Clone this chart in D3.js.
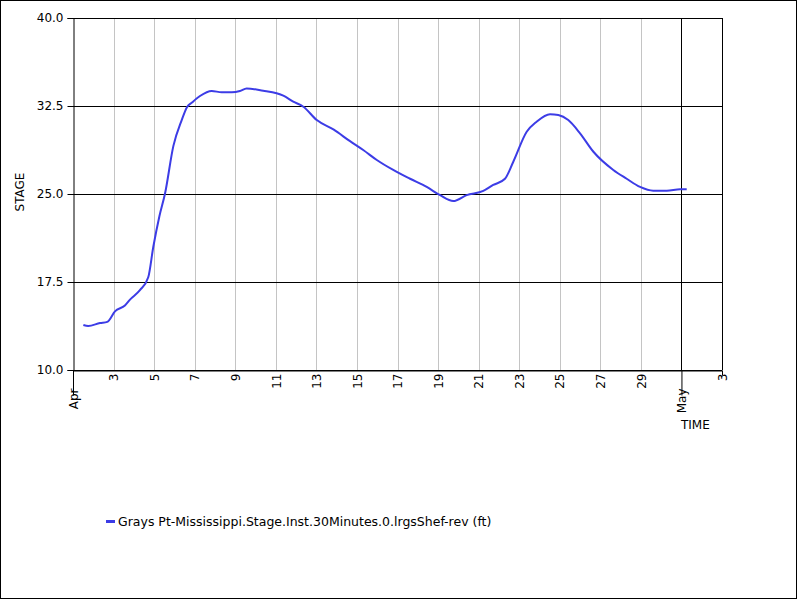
<!DOCTYPE html>
<html><head><meta charset="utf-8">
<script src="https://cdn.jsdelivr.net/npm/d3@7"></script>
<style>body{margin:0;background:#fff}svg{display:block;font-family:"DejaVu Sans",Verdana,sans-serif}</style>
</head><body>
<svg id="c" width="800" height="600"></svg>
<script>
// Day of April (May 1 = 31) and stage in ft
const days = [1.51,1.75,2.33,2.69,3.07,3.56,3.81,4.30,4.71,4.96,5.26,5.54,5.95,6.36,6.62,6.87,7.26,7.84,8.33,8.83,9.23,9.56,10.38,11.04,11.37,11.86,12.36,13.02,13.84,14.66,15.31,15.98,16.79,17.62,18.44,19.10,19.75,20.41,21.23,21.72,22.30,22.71,23.37,23.86,24.52,24.93,25.42,26.0,26.66,27.64,28.30,28.96,29.61,30.28,30.93,31.26];
const stage = [13.84,13.75,14.0,14.1,15.0,15.5,16.0,16.8,17.9,20.5,23.1,25.06,29.1,31.3,32.4,32.8,33.35,33.78,33.67,33.67,33.78,34.0,33.8,33.58,33.38,32.87,32.44,31.3,30.5,29.5,28.75,27.9,27.05,26.3,25.6,24.9,24.4,24.9,25.26,25.77,26.3,27.75,30.3,31.16,31.8,31.73,31.3,30.17,28.6,27.05,26.3,25.6,25.28,25.28,25.4,25.4];
const xTickDays = [1,3,5,7,9,11,13,15,17,19,21,23,25,27,29,31,33];
const xTickLabels = ["Apr","3","5","7","9","11","13","15","17","19","21","23","25","27","29","May","3"];
const yTicks = [10,17.5,25,32.5,40];
const seriesName = "Grays Pt-Mississippi.Stage.Inst.30Minutes.0.lrgsShef-rev (ft)";
const xTitle = "TIME", yTitle = "STAGE";

const svg = d3.select("#c");
const L=73,R=722,T=18,B=370;
const x = d3.scaleLinear().domain([1,33]).range([L,R]);
const y = d3.scaleLinear().domain([10,40]).range([B,T]);
const lineColor = "#3c3ce6";

svg.append("rect").attr("x",0.5).attr("y",0.5).attr("width",796).attr("height",598).attr("fill","none").attr("stroke","#000");

// vertical gridlines
const g = svg.append("g");
xTickDays.forEach((d,i)=>{
  const lab = xTickLabels[i];
  const major = isNaN(+lab);
  if (d===1) return;
  g.append("line").attr("x1",Math.round(x(d))+0.5).attr("x2",Math.round(x(d))+0.5).attr("y1",T).attr("y2",B)
   .attr("stroke", (major||d===33)?"#000":"#c4c4c4").attr("stroke-width",1);
});
// horizontal gridlines
yTicks.forEach(v=>{
  g.append("line").attr("x1",L).attr("x2",R).attr("y1",Math.round(y(v))+0.5).attr("y2",Math.round(y(v))+0.5)
   .attr("stroke", "#000");
});

// y axis
const ya = svg.append("g").attr("transform",`translate(${L+0.5},0)`)
  .call(d3.axisLeft(y).tickValues(yTicks).tickFormat(d3.format(".1f")).tickSize(6).tickPadding(4));
ya.selectAll("text").attr("font-size",12).attr("fill","#000").attr("font-family","DejaVu Sans");
ya.select(".domain").attr("stroke","#000");

// x axis
const xa = svg.append("g").attr("transform",`translate(0,${B+0.5})`)
  .call(d3.axisBottom(x).tickValues(xTickDays).tickFormat((d,i)=>xTickLabels[i]).tickSize(0).tickPadding(0));
xa.select(".domain").attr("stroke","#000");
xa.selectAll(".tick").each(function(d,i){
  const lab = xTickLabels[i];
  const major = isNaN(+lab);
  const t = d3.select(this);
  t.select("line").attr("stroke","#000").attr("y2", major?25:(d===33?5:0));
  t.select("text").attr("font-size",12).attr("fill","#000").attr("font-family","DejaVu Sans")
    .attr("transform",`rotate(-90)`).attr("text-anchor","end").attr("dy","0.35em")
    .attr("x", major?-18:-3).attr("y",0);
});

// axis titles
svg.append("text").attr("x",681).attr("y",429).attr("font-size",12).text(xTitle);
svg.append("text").attr("transform","translate(24,192) rotate(-90)").attr("text-anchor","middle").attr("font-size",12).text(yTitle);

// line
const line = d3.line().x((d,i)=>x(days[i])).y((d,i)=>y(stage[i])).curve(d3.curveMonotoneX);
svg.append("path").datum(stage).attr("d",line).attr("fill","none").attr("stroke",lineColor).attr("stroke-width",2);

// legend
svg.append("line").attr("x1",106).attr("x2",115).attr("y1",521.5).attr("y2",521.5).attr("stroke",lineColor).attr("stroke-width",3);
svg.append("text").attr("x",118).attr("y",526).attr("font-size",12.5).text(seriesName);
</script>
</body></html>
